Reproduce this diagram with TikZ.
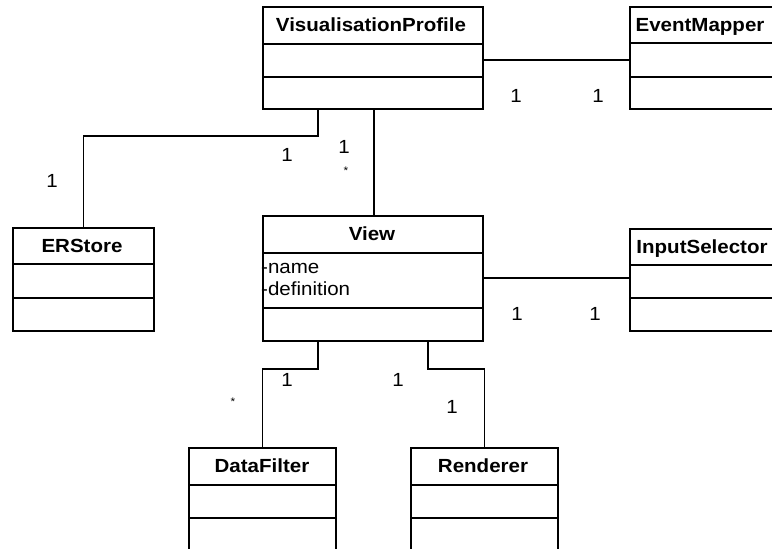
\documentclass[tikz,border=0pt]{standalone}
\usepackage{fontspec}
\setmainfont{Liberation Sans}[FakeStretch=1.08]
\tikzset{
  classbox/.style={draw, line width=1.7pt, rectangle, inner sep=0pt, anchor=north west},
  classtitle/.style={font=\fontsize{19}{21}\selectfont\bfseries, inner sep=0pt, text height=13.6pt, text depth=0pt},
  attr/.style={font=\fontsize{19}{21}\selectfont, inner sep=0pt, anchor=base west},
  mult/.style={font=\fontsize{19}{21}\selectfont, inner sep=0pt, text height=13.6pt, text depth=0pt},
  star/.style={font=\fontsize{11}{12}\selectfont, inner sep=0pt},
  conn/.style={line width=1.5pt},
  sep/.style={line width=1.7pt}
}
% name, x1, x2, ytop, ysep1, ysep2, ybot, title, title centre x
\newcommand\umlbox[9]{%
  \node[classbox, minimum width={(#3-#2)*1pt}, minimum height={(#7-#4)*1pt}] (#1) at (#2,#4) {};
  \node[classtitle] (#1-t) at (#9,{(#4+#5)/2}) {#8};
  \draw[sep] (#2,#5) -- (#3,#5);
  \draw[sep] (#2,#6) -- (#3,#6);
}
\begin{document}
\begin{tikzpicture}[x=1pt,y=-1pt]
\useasboundingbox (0,0) rectangle (772,549);
\clip (0,0) rectangle (772,549);
\fill[white] (0,0) rectangle (772,549);

\umlbox{vp}{262}{482}{6}{44}{77}{108}{VisualisationProfile}{371}
\umlbox{em}{629}{810}{6}{43}{77}{108}{EventMapper}{700}
\umlbox{er}{12}{153}{227}{264}{298}{330}{ERStore}{82}
\umlbox{view}{262}{482}{215}{253}{308}{340}{View}{372}
\umlbox{is}{629}{810}{228}{265}{298}{330}{InputSelector}{702}
\umlbox{df}{188}{335}{447}{485}{518}{600}{DataFilter}{262}
\umlbox{rd}{410}{557}{447}{485}{518}{600}{Renderer}{483}

\node[attr] (a1) at (261,273) {-name};
\node[attr] (a2) at (261,295) {-definition};

% connectors
\draw[conn] (vp.east |- 0,60) -- (em.west |- 0,60);
\coordinate (k1) at (318,136);
\draw[conn] (vp.south -| 318,0) -- (k1) -| (er.north);
\draw[conn] (vp.south -| 374,0) -- (view.north -| 374,0);
\draw[conn] (view.east |- 0,278) -- (is.west |- 0,278);
\coordinate (k2) at (318,369);
\draw[conn] (view.south -| 318,0) -- (k2) -| (df.north);
\coordinate (k3) at (428,369);
\draw[conn] (view.south -| 428,0) -- (k3) -| (rd.north);

% multiplicities
\node[mult] (m1) at (516,96) {1};
\node[mult] (m2) at (598,96) {1};
\node[mult] (m3) at (52,181) {1};
\node[mult] (m4) at (287,155) {1};
\node[mult] (m5) at (344,147) {1};
\node[star] (m6) at (346,171) {*};
\node[mult] (m7) at (517,314) {1};
\node[mult] (m8) at (595,314) {1};
\node[mult] (m9) at (287,380) {1};
\node[star] (m10) at (233,402) {*};
\node[mult] (m11) at (398,380) {1};
\node[mult] (m12) at (452,407) {1};
\end{tikzpicture}
\end{document}
